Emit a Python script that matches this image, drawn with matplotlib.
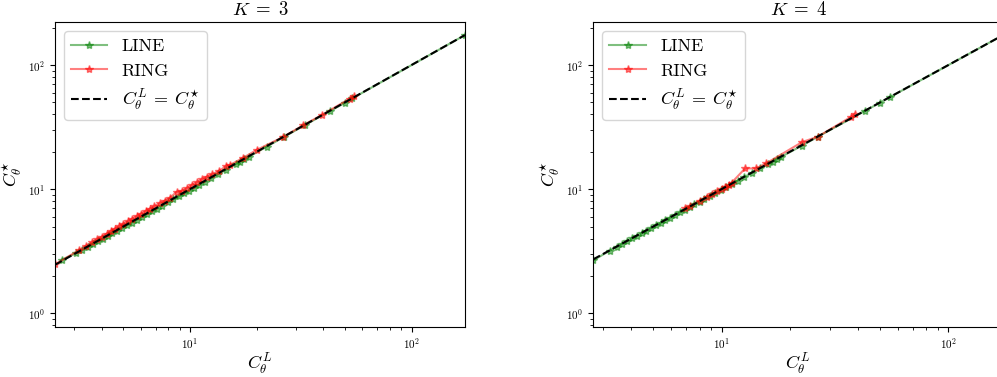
import numpy as np
import matplotlib
matplotlib.use("Agg")
import matplotlib.pyplot as plt

plt.rcParams["font.family"] = "serif"
plt.rcParams["font.serif"] = ["cmr10"]
plt.rcParams["mathtext.fontset"] = "cm"
plt.rcParams["axes.formatter.use_mathtext"] = True

# K = 3
line3_x = [2.65, 3.05, 3.25, 3.45, 3.65, 3.85, 4.05, 4.25, 4.45, 4.7, 4.95, 5.2, 5.45, 5.75,
           6.05, 6.4, 6.75, 7.1, 7.5, 7.95, 8.4, 8.9, 9.4, 9.9, 10.4, 11.0, 11.7, 12.5, 13.4,
           14.5, 16.2, 16.8, 17.6, 18.4, 22.2, 26.6, 33.2, 42.8, 50.0, 54.0, 174.0]
line3_y = [2.71, 3.04, 3.22, 3.41, 3.62, 3.80, 4.00, 4.20, 4.40, 4.64, 4.88, 5.12, 5.38, 5.66,
           5.95, 6.30, 6.64, 6.98, 7.38, 7.82, 8.26, 8.74, 9.25, 9.74, 10.22, 10.82, 11.5, 12.3, 13.2,
           14.3, 16.0, 16.6, 17.4, 18.2, 22.0, 26.4, 33.0, 42.5, 49.6, 53.8, 174.0]
ring3_x = [2.46, 3.15, 3.4, 3.6, 3.8, 4.0, 4.2, 4.4, 4.6, 4.8, 5.0, 5.25, 5.5, 5.75, 6.0, 6.3,
           6.6, 6.9, 7.3, 7.7, 8.1, 8.7, 9.2, 9.7, 10.2, 10.8, 11.3, 11.9, 12.6, 13.5, 14.6, 15.1,
           17.4, 20.0, 26.4, 32.5, 39.3, 52.5, 55.0]
ring3_y = [2.48, 3.22, 3.5, 3.72, 3.94, 4.15, 4.38, 4.6, 4.82, 5.04, 5.26, 5.52, 5.8, 6.06, 6.34, 6.65,
           6.98, 7.28, 7.7, 8.1, 8.5, 9.5, 9.7, 10.2, 10.8, 11.4, 12.0, 12.6, 13.2, 14.0, 15.4, 15.6,
           17.9, 20.7, 26.4, 32.8, 39.5, 53.5, 55.8]

# K = 4
line4_x = [2.72, 3.22, 3.45, 3.65, 3.85, 4.05, 4.25, 4.45, 4.65, 4.9, 5.15, 5.4, 5.65, 5.95, 6.25,
           6.55, 6.9, 7.25, 7.6, 8.0, 8.4, 8.9, 9.4, 9.9, 10.5, 11.1, 11.8, 12.6, 13.6, 14.8, 16.0,
           16.8, 17.6, 18.3, 22.6, 26.5, 42.8, 49.8, 55.1, 174.0]
line4_y = [2.67, 3.20, 3.42, 3.63, 3.82, 4.03, 4.22, 4.42, 4.62, 4.86, 5.12, 5.36, 5.62, 5.90, 6.20,
           6.50, 6.85, 7.20, 7.54, 7.95, 8.34, 8.84, 9.34, 9.84, 10.44, 11.04, 11.74, 12.55, 13.5, 14.7,
           15.9, 16.7, 17.5, 18.2, 22.4, 26.4, 42.6, 49.6, 55.0, 174.0]
ring4_x = [6.9, 7.3, 8.0, 8.6, 9.1, 9.6, 10.0, 10.4, 10.8, 11.1, 12.7, 14.2, 15.7, 22.7, 26.5, 37.3, 38.6]
ring4_y = [7.0, 7.35, 8.1, 8.7, 9.1, 9.6, 10.0, 10.4, 10.8, 11.3, 14.7, 14.7, 16.1, 24.0, 26.4, 38.3, 40.3]

panels = [
    (3, line3_x, line3_y, ring3_x, ring3_y),
    (4, line4_x, line4_y, ring4_x, ring4_y),
]

fig = plt.figure(figsize=(9.97, 3.77), dpi=100)
positions = [[0.0552, 0.1326, 0.411, 0.809], [0.595, 0.1326, 0.411, 0.809]]

for pos, (K, lx, ly, rx, ry) in zip(positions, panels):
    ax = fig.add_axes(pos)
    ax.plot(lx, ly, "g*-", alpha=0.5, markersize=6, label="LINE")
    ax.plot(rx, ry, "r*-", alpha=0.5, markersize=6, label="RING")
    lo = min(min(lx), min(rx))
    hi = max(max(lx), max(rx))
    ax.plot([lo, hi], [lo, hi], "k--", linewidth=1.5,
            label=r"$C_\theta^L \:=\: C_\theta^{\star}$")
    ax.set_xscale("log")
    ax.set_yscale("log")
    ax.set_xlim(lo, hi)
    ax.set_ylim(0.776, 222)
    ax.set_xlabel(r"$C_\theta^L$", fontsize=13, labelpad=0)
    ax.set_ylabel(r"$C_\theta^{\star}$", fontsize=13, labelpad=3)
    ax.set_title(rf"$K \;=\; {K}$", fontsize=13.5, pad=5)
    ax.tick_params(labelsize=8)
    ax.legend(loc="upper left", fontsize=13)

fig.savefig("out.png", dpi=100)
